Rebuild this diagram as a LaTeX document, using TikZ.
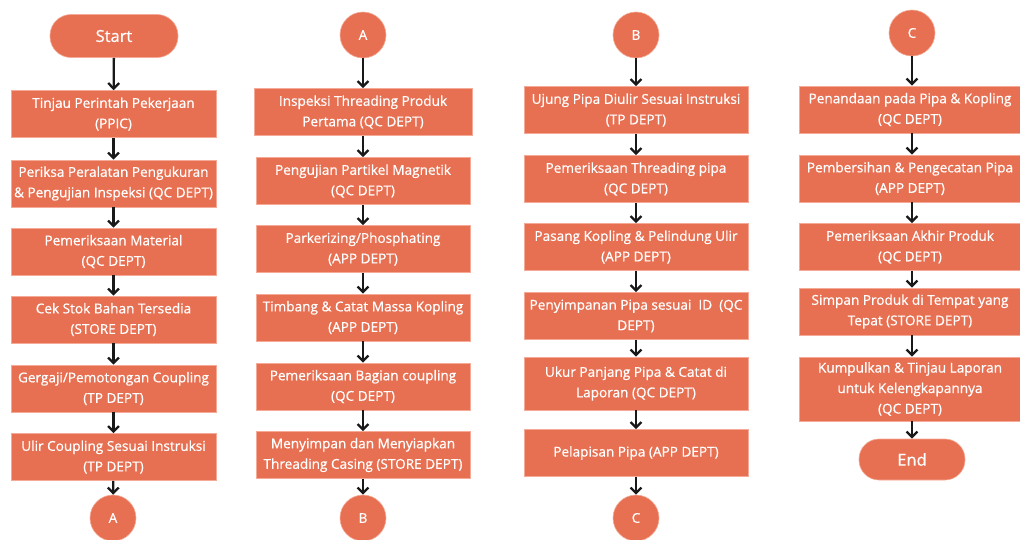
\documentclass[tikz,border=0pt]{standalone}
\usepackage{fontspec}
\setmainfont{Open Sans}[FakeBold=0.6]
\usetikzlibrary{shapes.geometric, arrows.meta}

\definecolor{boxorange}{RGB}{231,112,82}
\definecolor{boxedge}{RGB}{244,170,150}
\definecolor{arrowgray}{RGB}{25,25,25}

\tikzset{
    procbox/.style={rectangle, fill=boxorange, draw=boxedge, line width=0.6pt,
        text=white, align=center, minimum height=47pt, inner sep=2pt,
        font=\fontsize{13.6}{20.5}\selectfont},
    termbox/.style={rectangle, rounded corners=21pt, fill=boxorange, draw=boxedge,
        line width=0.6pt, text=white, minimum height=43pt,
        font=\fontsize{16.5}{18}\selectfont},
    connector/.style={circle, fill=boxorange, draw=boxedge, line width=0.6pt,
        text=white, minimum size=46pt, inner sep=0pt,
        font=\fontsize{13.5}{15}\selectfont},
    flow/.style={-{Straight Barb[length=5.5pt,width=11pt]}, line width=2.3pt, arrowgray}
}

\begin{document}
\begin{tikzpicture}[x=1pt, y=-1pt]
        \useasboundingbox (0,0) rectangle (1020,539);

        % First column
        \node[termbox, minimum width=128pt] (start) at (114,36) {Start};
        \node[procbox, minimum width=205pt] (p1) at (113.5,114) {Tinjau Perintah Pekerjaan\\(PPIC)};
        \node[procbox, minimum width=205pt] (p2) at (113.5,183.5) {Periksa Peralatan Pengukuran\\\& Pengujian Inspeksi (QC DEPT)};
        \node[procbox, minimum width=205pt] (p3) at (113.5,251.5) {Pemeriksaan Material\\(QC DEPT)};
        \node[procbox, minimum width=205pt] (p4) at (113.5,319.5) {Cek Stok Bahan Tersedia\\(STORE DEPT)};
        \node[procbox, minimum width=205pt] (p5) at (113.5,388.5) {Gergaji/Pemotongan Coupling\\(TP DEPT)};
        \node[procbox, minimum width=205pt] (p6) at (113.5,457) {Ulir Coupling Sesuai Instruksi\\(TP DEPT)};
        \node[connector] (outA) at (113,518) {A};

        \draw[flow] (start) -- (p1);
        \draw[flow] (p1) -- (p2);
        \draw[flow] (p2) -- (p3);
        \draw[flow] (p3) -- (p4);
        \draw[flow] (p4) -- (p5);
        \draw[flow] (p5) -- (p6);
        \draw[flow] (p6) -- (outA);

        % Second column
        \node[connector] (inA) at (363,35) {A};
        \node[procbox, minimum width=218pt] (q1) at (363,112) {Inspeksi Threading Produk\\Pertama (QC DEPT)};
        \node[procbox, minimum width=214pt] (q2) at (363,181) {Pengujian Partikel Magnetik\\(QC DEPT)};
        \node[procbox, minimum width=214pt] (q3) at (363,249) {Parkerizing/Phosphating\\(APP DEPT)};
        \node[procbox, minimum width=214pt] (q4) at (363,317.5) {Timbang \& Catat Massa Kopling\\(APP DEPT)};
        \node[procbox, minimum width=214pt] (q5) at (363,386.5) {Pemeriksaan Bagian coupling\\(QC DEPT)};
        \node[procbox, minimum width=214pt] (q6) at (363,455) {Menyimpan dan Menyiapkan\\Threading Casing (STORE DEPT)};
        \node[connector] (outB) at (363,518) {B};

        \draw[flow] (inA) -- (q1);
        \draw[flow] (q1) -- (q2);
        \draw[flow] (q2) -- (q3);
        \draw[flow] (q3) -- (q4);
        \draw[flow] (q4) -- (q5);
        \draw[flow] (q5) -- (q6);
        \draw[flow] (q6) -- (outB);

        % Third column
        \node[connector] (inB) at (636,35) {B};
        \node[procbox, minimum width=224pt] (r1) at (636,110) {Ujung Pipa Diulir Sesuai Instruksi\\(TP DEPT)};
        \node[procbox, minimum width=224pt] (r2) at (636,179) {Pemeriksaan Threading pipa\\(QC DEPT)};
        \node[procbox, minimum width=224pt] (r3) at (636,247) {Pasang Kopling \& Pelindung Ulir\\(APP DEPT)};
        \node[procbox, minimum width=224pt] (r4) at (636,316) {Penyimpanan Pipa sesuai\ \ ID\ \ (QC\\DEPT)};
        \node[procbox, minimum width=224pt, minimum height=53pt] (r5) at (636,383.5) {Ukur Panjang Pipa \& Catat di\\Laporan (QC DEPT)};
        \node[procbox, minimum width=224pt] (r6) at (636,453) {Pelapisan Pipa (APP DEPT)};
        \node[connector] (outC) at (636,518) {C};

        \draw[flow] (inB) -- (r1);
        \draw[flow] (r1) -- (r2);
        \draw[flow] (r2) -- (r3);
        \draw[flow] (r3) -- (r4);
        \draw[flow] (r4) -- (r5);
        \draw[flow] (r5) -- (r6);
        \draw[flow] (r6) -- (outC);

        % Fourth column
        \node[connector] (inC) at (912,33) {C};
        \node[procbox, minimum width=221pt] (s1) at (910,109.5) {Penandaan pada Pipa \& Kopling\\(QC DEPT)};
        \node[procbox, minimum width=221pt] (s2) at (910,178.5) {Pembersihan \& Pengecatan Pipa\\(APP DEPT)};
        \node[procbox, minimum width=221pt] (s3) at (910,247) {Pemeriksaan Akhir Produk\\(QC DEPT)};
        \node[procbox, minimum width=221pt] (s4) at (910,311.5) {Simpan Produk di Tempat yang\\Tepat (STORE DEPT)};
        \node[procbox, minimum width=221pt, minimum height=64pt] (s5) at (910,389) {Kumpulkan \& Tinjau Laporan\\untuk Kelengkapannya\\(QC DEPT)};
        \node[termbox, minimum width=106pt, minimum height=41pt, rounded corners=20pt] (finish) at (912,459.5) {End};

        \draw[flow] (inC) -- (inC |- s1.north);
        \draw[flow] (s1.south -| inC) -- (inC |- s2.north);
        \draw[flow] (s2.south -| inC) -- (inC |- s3.north);
        \draw[flow] (s3.south -| inC) -- (inC |- s4.north);
        \draw[flow] (s4.south -| inC) -- (inC |- s5.north);
        \draw[flow] (s5.south -| inC) -- (finish);

    \end{tikzpicture}
\end{document}
